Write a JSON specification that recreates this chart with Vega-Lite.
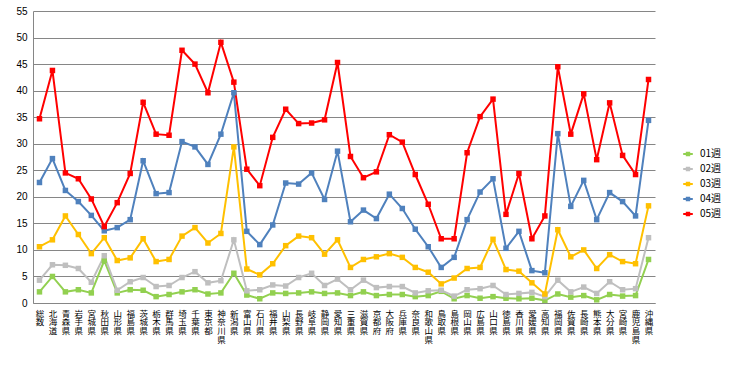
{
  "$schema": "https://vega.github.io/schema/vega-lite/v6.json",
  "width": 622,
  "height": 292,
  "autosize": {"type": "none"},
  "padding": {"left": 33, "top": 11, "right": 76, "bottom": 69},
  "background": "white",
  "config": {
    "view": {"stroke": null},
    "font": "Noto Sans CJK JP"
  },
  "data": {
    "values": [
      {"p": "総数", "01週": 2.1, "02週": 4.3, "03週": 10.6, "04週": 22.7, "05週": 34.7},
      {"p": "北海道", "01週": 5.0, "02週": 7.2, "03週": 11.9, "04週": 27.2, "05週": 43.8},
      {"p": "青森県", "01週": 2.1, "02週": 7.1, "03週": 16.4, "04週": 21.2, "05週": 24.5},
      {"p": "岩手県", "01週": 2.5, "02週": 6.5, "03週": 12.9, "04週": 19.1, "05週": 23.4},
      {"p": "宮城県", "01週": 1.9, "02週": 3.9, "03週": 9.3, "04週": 16.5, "05週": 19.6},
      {"p": "秋田県", "01週": 8.0, "02週": 8.9, "03週": 12.3, "04週": 13.6, "05週": 14.4},
      {"p": "山形県", "01週": 1.9, "02週": 2.4, "03週": 8.0, "04週": 14.2, "05週": 18.9},
      {"p": "福島県", "01週": 2.5, "02週": 4.0, "03週": 8.5, "04週": 15.7, "05週": 24.4},
      {"p": "茨城県", "01週": 2.4, "02週": 4.8, "03週": 12.1, "04週": 26.8, "05週": 37.8},
      {"p": "栃木県", "01週": 1.2, "02週": 3.1, "03週": 7.8, "04週": 20.6, "05週": 31.8},
      {"p": "群馬県", "01週": 1.6, "02週": 3.3, "03週": 8.2, "04週": 20.8, "05週": 31.6},
      {"p": "埼玉県", "01週": 2.1, "02週": 4.8, "03週": 12.6, "04週": 30.4, "05週": 47.6},
      {"p": "千葉県", "01週": 2.5, "02週": 5.9, "03週": 14.2, "04週": 29.4, "05週": 45.0},
      {"p": "東京都", "01週": 1.7, "02週": 3.8, "03週": 11.3, "04週": 26.1, "05週": 39.6},
      {"p": "神奈川県", "01週": 1.9, "02週": 4.2, "03週": 13.1, "04週": 31.8, "05週": 49.1},
      {"p": "新潟県", "01週": 5.6, "02週": 11.9, "03週": 29.4, "04週": 39.6, "05週": 41.6},
      {"p": "富山県", "01週": 1.5, "02週": 2.3, "03週": 6.4, "04週": 13.5, "05週": 25.2},
      {"p": "石川県", "01週": 0.8, "02週": 2.5, "03週": 5.3, "04週": 11.0, "05週": 22.1},
      {"p": "福井県", "01週": 1.9, "02週": 3.4, "03週": 7.4, "04週": 14.7, "05週": 31.2},
      {"p": "山梨県", "01週": 1.8, "02週": 3.2, "03週": 10.8, "04週": 22.6, "05週": 36.5},
      {"p": "長野県", "01週": 1.9, "02週": 4.8, "03週": 12.6, "04週": 22.4, "05週": 33.8},
      {"p": "岐阜県", "01週": 2.1, "02週": 5.6, "03週": 12.3, "04週": 24.5, "05週": 33.9},
      {"p": "静岡県", "01週": 1.8, "02週": 3.3, "03週": 9.2, "04週": 19.5, "05週": 34.5},
      {"p": "愛知県", "01週": 1.9, "02週": 4.5, "03週": 11.9, "04週": 28.6, "05週": 45.3},
      {"p": "三重県", "01週": 1.4, "02週": 2.5, "03週": 6.7, "04週": 15.3, "05週": 27.6},
      {"p": "滋賀県", "01週": 2.1, "02週": 4.3, "03週": 8.2, "04週": 17.5, "05週": 23.6},
      {"p": "京都府", "01週": 1.4, "02週": 2.9, "03週": 8.7, "04週": 15.9, "05週": 24.7},
      {"p": "大阪府", "01週": 1.6, "02週": 3.1, "03週": 9.3, "04週": 20.5, "05週": 31.7},
      {"p": "兵庫県", "01週": 1.6, "02週": 3.1, "03週": 8.6, "04週": 17.8, "05週": 30.3},
      {"p": "奈良県", "01週": 1.2, "02週": 1.9, "03週": 6.7, "04週": 13.9, "05週": 24.2},
      {"p": "和歌山県", "01週": 1.4, "02週": 2.3, "03週": 5.8, "04週": 10.6, "05週": 18.6},
      {"p": "鳥取県", "01週": 2.2, "02週": 2.4, "03週": 3.6, "04週": 6.7, "05週": 12.1},
      {"p": "島根県", "01週": 0.8, "02週": 1.3, "03週": 4.7, "04週": 8.6, "05週": 12.1},
      {"p": "岡山県", "01週": 1.4, "02週": 2.5, "03週": 6.5, "04週": 15.7, "05週": 28.3},
      {"p": "広島県", "01週": 0.9, "02週": 2.7, "03週": 6.7, "04週": 20.9, "05週": 35.1},
      {"p": "山口県", "01週": 1.2, "02週": 3.3, "03週": 12.0, "04週": 23.4, "05週": 38.4},
      {"p": "徳島県", "01週": 0.9, "02週": 1.6, "03週": 6.3, "04週": 10.3, "05週": 16.7},
      {"p": "香川県", "01週": 0.8, "02週": 1.8, "03週": 6.0, "04週": 13.5, "05週": 24.4},
      {"p": "愛媛県", "01週": 0.9, "02週": 2.0, "03週": 3.8, "04週": 6.1, "05週": 12.1},
      {"p": "高知県", "01週": 0.5, "02週": 1.2, "03週": 1.7, "04週": 5.7, "05週": 16.4},
      {"p": "福岡県", "01週": 1.7, "02週": 4.3, "03週": 13.8, "04週": 31.9, "05週": 44.5},
      {"p": "佐賀県", "01週": 1.1, "02週": 2.1, "03週": 8.7, "04週": 18.2, "05週": 31.8},
      {"p": "長崎県", "01週": 1.4, "02週": 3.0, "03週": 10.0, "04週": 23.1, "05週": 39.4},
      {"p": "熊本県", "01週": 0.6, "02週": 1.8, "03週": 6.5, "04週": 15.7, "05週": 27.0},
      {"p": "大分県", "01週": 1.6, "02週": 4.0, "03週": 9.1, "04週": 20.8, "05週": 37.7},
      {"p": "宮崎県", "01週": 1.3, "02週": 2.5, "03週": 7.8, "04週": 19.1, "05週": 27.8},
      {"p": "鹿児島県", "01週": 1.4, "02週": 2.7, "03週": 7.4, "04週": 16.4, "05週": 24.2},
      {"p": "沖縄県", "01週": 8.2, "02週": 12.3, "03週": 18.3, "04週": 34.4, "05週": 42.1}
    ]
  },
  "transform": [
    {"fold": ["01週", "02週", "03週", "04週", "05週"], "as": ["week", "value"]}
  ],
  "mark": {
    "type": "line",
    "strokeWidth": 2,
    "point": {"shape": "square", "size": 30, "filled": true}
  },
  "encoding": {
    "x": {
      "field": "p",
      "type": "nominal",
      "sort": null,
      "scale": {"type": "point", "padding": 0.5},
      "axis": {
        "title": null,
        "labelAngle": 0,
        "labelExpr": "split(datum.label, '')",
        "ticks": false,
        "domain": true,
        "domainColor": "#868686",
        "domainWidth": 1,
        "labelBaseline": "top",
        "labelPadding": 6,
        "labelFontSize": 8.5,
        "labelLineHeight": 8.7,
        "labelFont": "Noto Sans CJK JP",
        "labelColor": "#000000",
        "labelOverlap": false,
        "labelBound": false,
        "grid": false
      }
    },
    "y": {
      "field": "value",
      "type": "quantitative",
      "scale": {"domain": [0, 55], "nice": false, "zero": true},
      "axis": {
        "title": null,
        "values": [0, 5, 10, 15, 20, 25, 30, 35, 40, 45, 50, 55],
        "grid": true,
        "gridColor": "#868686",
        "gridWidth": 1,
        "domain": true,
        "domainColor": "#868686",
        "ticks": false,
        "labelPadding": 6,
        "labelFontSize": 10,
        "labelFont": "Liberation Sans",
        "labelColor": "#000000"
      }
    },
    "color": {
      "field": "week",
      "type": "nominal",
      "scale": {
        "domain": ["01週", "02週", "03週", "04週", "05週"],
        "range": ["#92D050", "#BFBFBF", "#FFC000", "#4F81BD", "#FF0000"]
      },
      "legend": {
        "title": null,
        "orient": "none",
        "legendX": 646,
        "legendY": 134,
        "padding": 0,
        "symbolType": "M-0.6,0H0.6M-0.15,-0.15H0.15V0.15H-0.15Z",
        "symbolSize": 256,
        "symbolStrokeWidth": 2,
        "rowPadding": 0,
        "labelOffset": 3,
        "labelFontSize": 10,
        "labelFont": "Noto Sans CJK JP",
        "labelColor": "#000000",
        "encode": {
          "symbols": {"update": {"fill": {"scale": "color", "field": "value"}}}
        }
      }
    }
  }
}
